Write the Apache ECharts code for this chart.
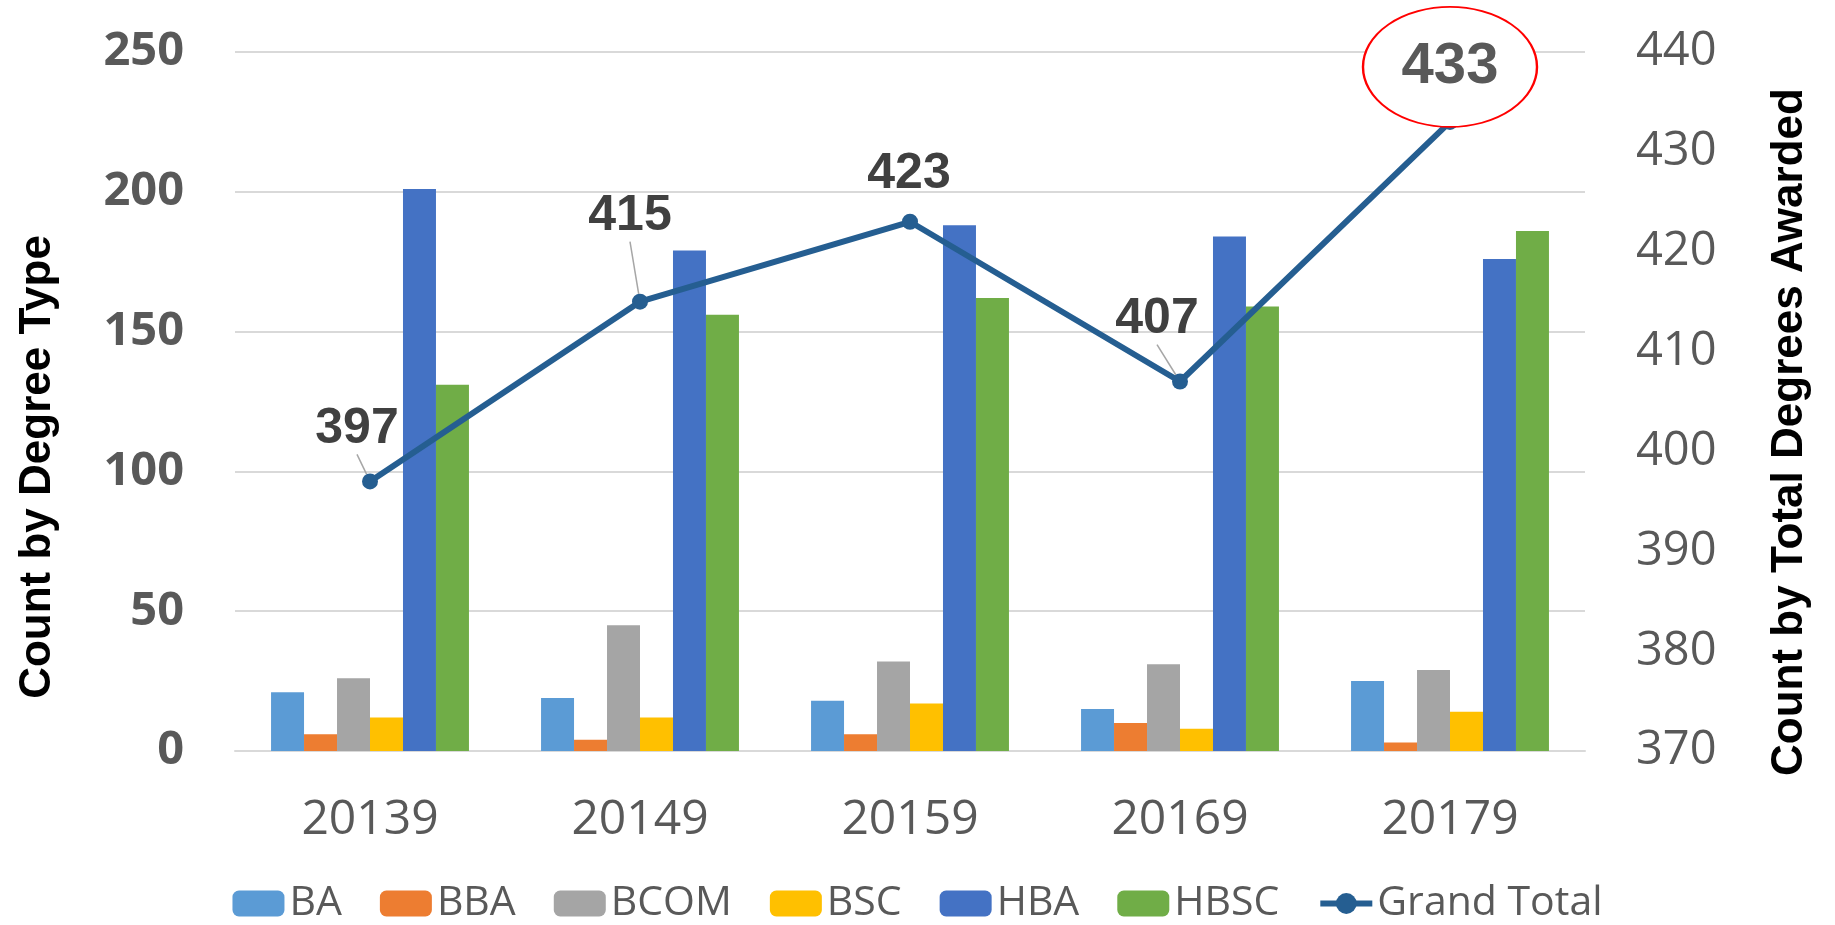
<!DOCTYPE html>
<html>
<head>
<meta charset="utf-8">
<title>Degrees Awarded</title>
<script src="https://cdn.jsdelivr.net/npm/echarts@6/dist/echarts.min.js"></script>
<style>
  html, body { margin: 0; padding: 0; background: #fff; }
  #chart { width: 1835px; height: 925px; }
</style>
</head>
<body>
<div id="chart"></div>
<script>
// terms and counts per degree type
const terms = ["20139", "20149", "20159", "20169", "20179"];
const ba = [21, 19, 18, 15, 25];
const bba = [6, 4, 6, 10, 3];
const bcom = [26, 45, 32, 31, 29];
const bsc = [12, 12, 17, 8, 14];
const hba = [201, 179, 188, 184, 176];
const hbsc = [131, 156, 162, 159, 186];
const grandTotal = [397, 415, 423, 407, 433];

// label nudges for the total line (dx, dy from the point)
const labelShift = [[-13, -52], [-10, -85], [-1, -48], [-23, -62], [0, 0]];
const noLeader = [2];

const gray = "#595959";
const arial = "'Liberation Sans', Arial, sans-serif";

const chart = echarts.init(document.getElementById("chart"));

function barSeries(name, data, color) {
  return {
    name: name,
    type: "bar",
    data: data,
    barGap: "0%",
    barCategoryGap: "26.7%",
    itemStyle: { color: color }
  };
}

const option = {
  animation: false,
  backgroundColor: "#fff",
  grid: { left: 235, right: 250, top: 52, bottom: 174 },
  legend: {
    top: 878,
    left: "center",
    itemWidth: 52,
    itemHeight: 26,
    itemGap: 38,
    textStyle: { fontFamily: "Open Sans", fontSize: 41, color: gray },
    data: ["BA", "BBA", "BCOM", "BSC", "HBA", "HBSC",
      { name: "Grand Total", lineStyle: { width: 6 } }]
  },
  xAxis: {
    type: "category",
    data: terms,
    axisTick: { show: false },
    axisLine: { lineStyle: { color: "#d9d9d9", width: 2 } },
    axisLabel: { fontFamily: "Open Sans", fontSize: 48, color: gray, margin: 45 }
  },
  yAxis: [
    {
      type: "value",
      min: 0,
      max: 250,
      interval: 50,
      axisLine: { show: false },
      axisTick: { show: false },
      splitLine: { lineStyle: { color: "#d9d9d9", width: 2 } },
      axisLabel: { fontFamily: "Open Sans", fontSize: 47, fontWeight: "bold", color: gray, margin: 51 }
    },
    {
      type: "value",
      min: 370,
      max: 440,
      interval: 10,
      axisLine: { show: false },
      axisTick: { show: false },
      splitLine: { show: false },
      axisLabel: { fontFamily: "Open Sans", fontSize: 47, color: gray, margin: 51 }
    }
  ],
  series: [
    barSeries("BA", ba, "#5b9bd5"),
    barSeries("BBA", bba, "#ed7d31"),
    barSeries("BCOM", bcom, "#a5a5a5"),
    barSeries("BSC", bsc, "#ffc000"),
    barSeries("HBA", hba, "#4472c4"),
    barSeries("HBSC", hbsc, "#70ad47"),
    {
      name: "Grand Total",
      type: "line",
      yAxisIndex: 1,
      data: grandTotal.map((v, i) => ({
        value: v,
        label: { show: i !== grandTotal.length - 1 },
        labelLine: { show: noLeader.indexOf(i) < 0 }
      })),
      symbol: "circle",
      symbolSize: 16,
      itemStyle: { color: "#255e91" },
      lineStyle: { color: "#255e91", width: 6 },
      label: {
        show: true,
        position: "inside",
        fontFamily: arial,
        fontWeight: "bold",
        fontSize: 50,
        color: "#404040"
      },
      labelLine: { show: true, lineStyle: { color: "#a6a6a6", width: 1.5 } },
      labelLayout: function (p) {
        const s = labelShift[p.dataIndex];
        return { dx: s[0], dy: s[1] };
      },
      markPoint: {
        symbol: "circle",
        symbolSize: [174, 120],
        symbolOffset: [0, -55],
        itemStyle: { color: "#fff", borderColor: "#ff0000", borderWidth: 2 },
        label: {
          show: true,
          position: "inside",
          formatter: "{c}",
          fontFamily: arial,
          fontWeight: "bold",
          fontSize: 58,
          color: gray
        },
        data: [{ type: "max", name: "max" }]
      }
    }
  ],
  graphic: [
    {
      type: "text",
      x: 38,
      y: 467,
      rotation: Math.PI / 2,
      style: {
        text: "Count by Degree Type",
        font: "bold 44px " + arial,
        fill: "#000",
        textAlign: "center",
        textVerticalAlign: "middle"
      }
    },
    {
      type: "text",
      x: 1790,
      y: 432,
      rotation: Math.PI / 2,
      style: {
        text: "Count by Total Degrees Awarded",
        font: "bold 44px " + arial,
        fill: "#000",
        textAlign: "center",
        textVerticalAlign: "middle"
      }
    }
  ]
};

chart.setOption(option);
</script>
</body>
</html>
